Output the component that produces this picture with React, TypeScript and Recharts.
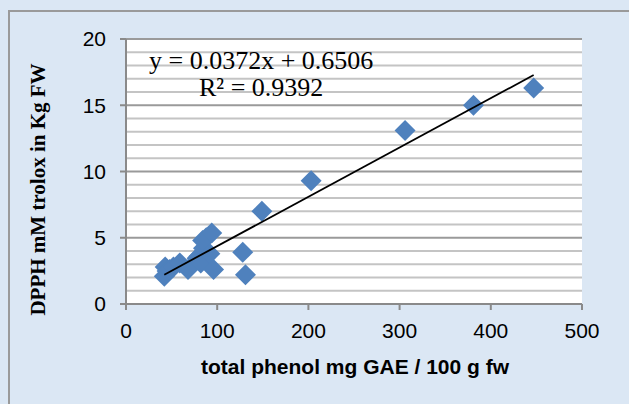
import { ScatterChart, Scatter, XAxis, YAxis, ReferenceLine, ReferenceArea } from 'recharts'

// total phenol (mg GAE / 100 g fw) vs DPPH (mM trolox in Kg FW)
const phenol = [42, 43, 45, 48, 52, 59, 68, 78, 80, 82, 85, 84, 88, 92, 94, 96, 128, 131, 149, 203, 306, 381, 447]
const dpph = [2.1, 2.8, 2.5, 2.6, 2.8, 3.1, 2.6, 3.45, 3.6, 3.1, 4.2, 4.8, 5.0, 3.8, 5.35, 2.6, 3.9, 2.2, 7.0, 9.3, 13.1, 15.0, 16.3]

const slope = 0.0372
const intercept = 0.6506
const rSquared = 0.9392

const xTicks = [0, 100, 200, 300, 400, 500]
const yTicks = [0, 5, 10, 15, 20]
const gridValues = Array.from({ length: 21 }, (_, i) => i)

const points = phenol.map((x, i) => ({ x, y: dpph[i] }))
const xMin = Math.min(...phenol)
const xMax = Math.max(...phenol)
const trend = [
  { x: xMin, y: slope * xMin + intercept },
  { x: xMax, y: slope * xMax + intercept },
]

const Diamond = (props: any) => {
  const { cx, cy } = props
  const r = 10.5
  return (
    <polygon
      points={`${cx},${cy - r} ${cx + r},${cy} ${cx},${cy + r} ${cx - r},${cy}`}
      fill="#4f81bd"
    />
  )
}

const tickStyle = { fontFamily: 'Liberation Sans, Arial, sans-serif', fontSize: 21, fill: '#000' }

export default function App() {
  return (
    <div
      style={{
        position: 'absolute',
        left: 0,
        top: 0,
        width: 629,
        height: 404,
        overflow: 'hidden',
        background: '#dbe7f4',
      }}
    >
      <div
        style={{
          position: 'absolute',
          left: 8,
          top: 10,
          width: 660,
          height: 420,
          border: '2px solid #9a9a9a',
        }}
      />
      <div style={{ position: 'absolute', left: 0, top: 0 }}>
        <ScatterChart width={629} height={404} margin={{ top: 39, right: 47, bottom: 50, left: 0 }}>
          <ReferenceArea x1={0} x2={500} y1={0} y2={20} fill="#ffffff" fillOpacity={1} stroke="none" />
          {gridValues.map((v) => (
            <ReferenceLine
              key={v}
              y={v}
              stroke={v % 5 === 0 ? '#9a9a9a' : '#c4c4c4'}
              strokeWidth={2}
            />
          ))}
          <XAxis
            type="number"
            dataKey="x"
            domain={[0, 500]}
            ticks={xTicks}
            height={50}
            stroke="#8a8a8a"
            strokeWidth={2}
            tickSize={6}
            tickMargin={13}
            tick={tickStyle}
            label={{
              value: 'total phenol mg GAE / 100 g fw',
              position: 'insideBottom',
              offset: 0,
              dy: 20,
              dx: 1,
              style: { fontFamily: 'Liberation Sans, Arial, sans-serif', fontSize: 21, fontWeight: 'bold', fill: '#000' },
            }}
          />
          <YAxis
            type="number"
            dataKey="y"
            domain={[0, 20]}
            ticks={yTicks}
            width={126}
            stroke="#8a8a8a"
            strokeWidth={2}
            tickSize={6}
            tickMargin={14}
            tick={tickStyle}
            label={{
              value: 'DPPH mM trolox in Kg FW',
              angle: -90,
              position: 'insideLeft',
              offset: 0,
              dx: 38,
              dy: 18,
              style: {
                fontFamily: 'Liberation Serif, Times New Roman, serif',
                fontSize: 21,
                fontWeight: 'bold',
                fill: '#000',
                textAnchor: 'middle',
              },
            }}
          />
          <Scatter data={points} shape={Diamond} isAnimationActive={false} />
          <Scatter
            data={trend}
            line={{ stroke: '#000', strokeWidth: 1.8 }}
            shape={() => <g />}
            isAnimationActive={false}
          />
        </ScatterChart>
      </div>
      <div
        style={{
          position: 'absolute',
          left: 149,
          top: 47,
          fontFamily: 'Liberation Serif, Times New Roman, serif',
          fontSize: 26,
          lineHeight: '27px',
          color: '#000',
          whiteSpace: 'pre',
        }}
      >
        <div>{`y = ${slope}x + ${intercept}`}</div>
        <div style={{ paddingLeft: 50 }}>{`R² = ${rSquared}`}</div>
      </div>
    </div>
  )
}
